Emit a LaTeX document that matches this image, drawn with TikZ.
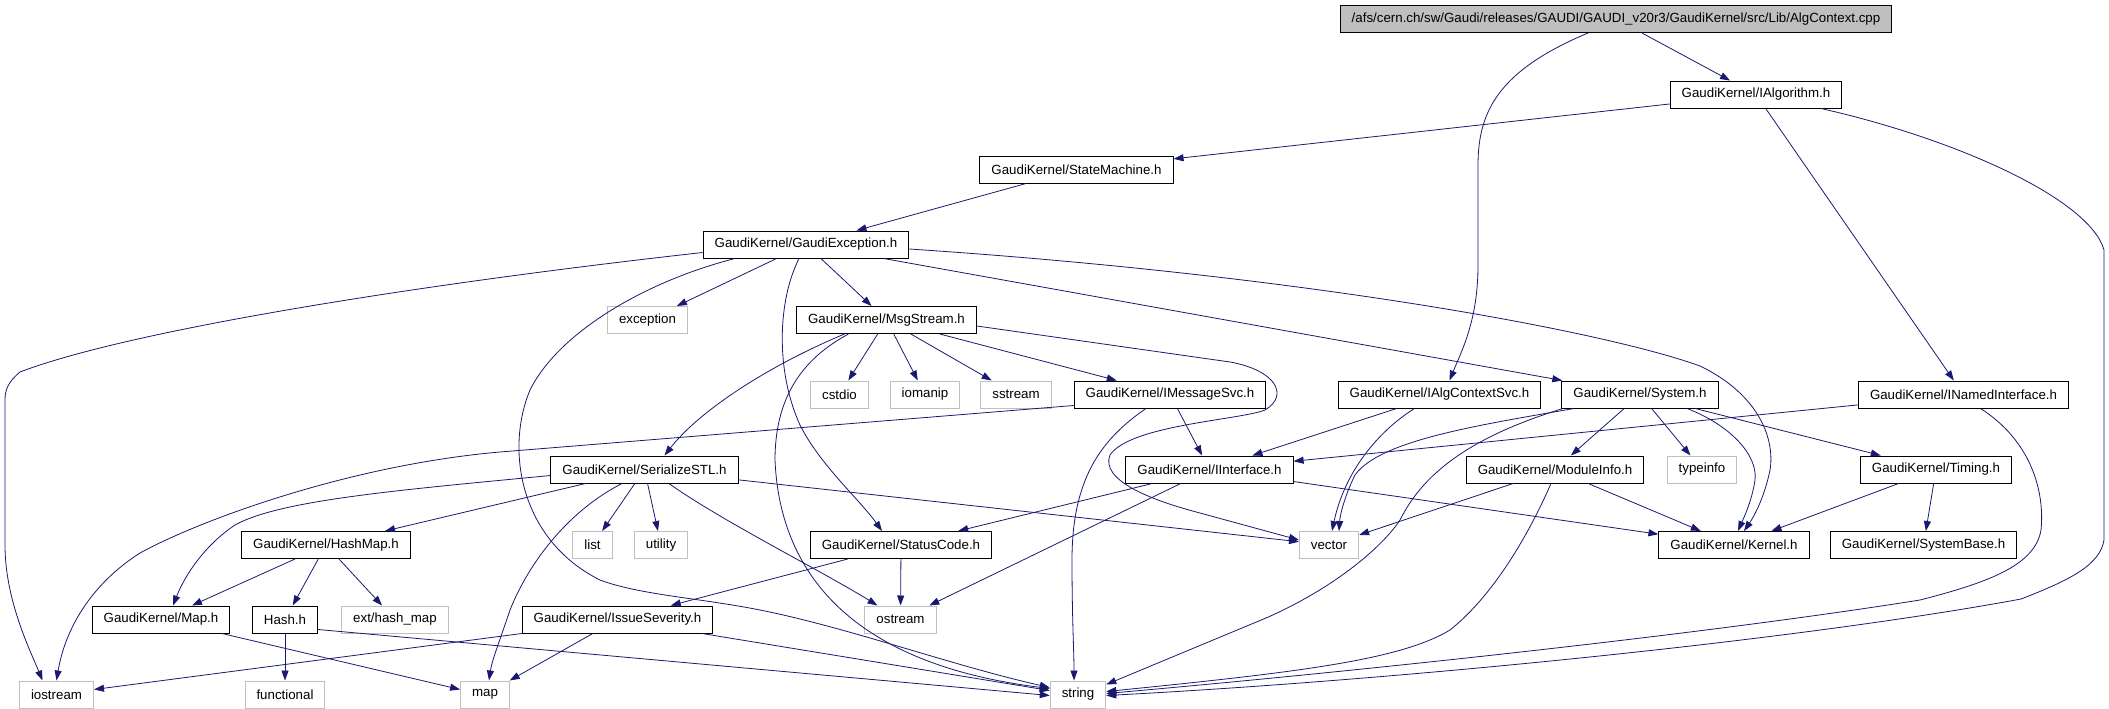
\documentclass[tikz,border=0pt]{standalone}
\usepackage{fontspec}
\setmainfont{Liberation Sans}
\usetikzlibrary{arrows.meta}
\definecolor{edgeblue}{RGB}{25,25,112}
\definecolor{boxgray}{RGB}{191,191,191}

\tikzset{
  hdr/.style={draw=black, line width=1pt, minimum height=27pt, inner xsep=11.5pt, inner ysep=0pt, font=\fontsize{13.3}{15}\selectfont},
  stdhdr/.style={hdr, draw=boxgray},
  rootbox/.style={hdr, fill=boxgray},
  dep/.style={draw=edgeblue, line width=0.8pt, -{Triangle[length=10pt,width=7pt]}}
}

\begin{document}
\begin{tikzpicture}[x=1pt, y=-1pt]

% Frame
\useasboundingbox (0,0) rectangle (2109,709);

% Root file
\node[rootbox] (root) at (1616,19) {/afs/cern.ch/sw/Gaudi/releases/GAUDI/GAUDI\_v20r3/GaudiKernel/src/Lib/AlgContext.cpp};

% GaudiKernel headers
\node[hdr] (ia) at (1756,94.5) {GaudiKernel/IAlgorithm.h};
\node[hdr] (sm) at (1076.5,169.5) {GaudiKernel/StateMachine.h};
\node[hdr] (ge) at (806,244.5) {GaudiKernel/GaudiException.h};
\node[hdr] (ms) at (886.5,320) {GaudiKernel/MsgStream.h};
\node[hdr] (ims) at (1170,394.5) {GaudiKernel/IMessageSvc.h};
\node[hdr] (ics) at (1439.5,394.5) {GaudiKernel/IAlgContextSvc.h};
\node[hdr] (system) at (1640,394.5) {GaudiKernel/System.h};
\node[hdr] (ini) at (1963.5,394.5) {GaudiKernel/INamedInterface.h};
\node[hdr] (sstl) at (644.5,469.5) {GaudiKernel/SerializeSTL.h};
\node[hdr] (ii) at (1209.5,469.5) {GaudiKernel/IInterface.h};
\node[hdr] (mi) at (1555,469.5) {GaudiKernel/ModuleInfo.h};
\node[hdr] (timing) at (1936,469.5) {GaudiKernel/Timing.h};
\node[hdr] (hm) at (326,545) {GaudiKernel/HashMap.h};
\node[hdr] (sc) at (901,545) {GaudiKernel/StatusCode.h};
\node[hdr] (kernel) at (1734,545) {GaudiKernel/Kernel.h};
\node[hdr] (sb) at (1923.5,545) {GaudiKernel/SystemBase.h};
\node[hdr] (gkmap) at (161,619.5) {GaudiKernel/Map.h};
\node[hdr] (hash) at (285,619.5) {Hash.h};
\node[hdr] (is) at (617.5,619.5) {GaudiKernel/IssueSeverity.h};

% System headers
\foreach \n/\x/\y/\t in {exc/647.5/320/exception, cstdio/839.5/394.5/cstdio,
  iomanip/925/394.5/iomanip, sstream/1016/394.5/sstream,
  typeinfo/1702/469.5/typeinfo, list/592.5/545/list, utility/661/545/utility,
  vector/1329/545/vector, exthm/395/619.5/{ext/hash\_map}, ostream/900.5/619.5/ostream,
  iostream/56.5/694.5/iostream, functional/285/694.5/functional,
  stdmap/485/694.5/map, string/1078/694.5/string} {
    \node[stdhdr] (\n) at (\x,\y) {\t};
}

% Root
\draw[dep] (root) -- (ia);
\draw[dep] ([xshift=-28pt]root.south) .. controls (1500,70) and (1478,110) .. (1478,165) -- (1478,265) .. controls (1478,320) and (1462,350) .. ([xshift=10pt]ics.north);

% IAlgorithm
\draw[dep] (ia) -- (sm);
\draw[dep] (ia) -- (ini);
\draw[dep] ([xshift=65pt]ia.south) .. controls (1960,140) and (2090,200) .. (2104,250) -- (2104,540) .. controls (2100,565) and (2070,580) .. (2021,599) .. controls (1800,640) and (1400,680) .. ([yshift=-1pt]string.east);

% StateMachine
\draw[dep] (sm) -- (ge);

% GaudiException
\draw[dep] (ge) -- (exc);
\draw[dep] (ge) -- (ms);
\draw[dep] (ge) -- (system);
\draw[dep] ([yshift=-8pt]ge.west) .. controls (420,284) and (130,330) .. (20,372) .. controls (8,382) and (5,390) .. (5,400) -- (5,545) .. controls (5,600) and (30,650) .. ([xshift=-14pt]iostream.north);
\draw[dep] ([xshift=-7pt]ge.south) .. controls (778,300) and (775,370) .. (800,425) .. controls (820,465) and (860,500) .. ([xshift=-19pt]sc.north);
\draw[dep] ([xshift=-71pt]ge.south) .. controls (650,280) and (560,330) .. (530,390) .. controls (505,450) and (520,540) .. (600,580) .. controls (640,595) and (700,598) .. (760,610) .. controls (850,628) and (950,665) .. ([yshift=7pt]string.west);
\draw[dep] ([yshift=-4.5pt]ge.east) .. controls (1300,275) and (1600,330) .. (1700,366) .. controls (1760,395) and (1775,440) .. (1770,470) .. controls (1765,495) and (1755,515) .. ([xshift=10pt]kernel.north);

% MsgStream
\draw[dep] (ms) -- (cstdio);
\draw[dep] (ms) -- (iomanip);
\draw[dep] (ms) -- (sstream);
\draw[dep] (ms) -- (ims);
\draw[dep] ([xshift=-42pt]ms.south) .. controls (770,365) and (700,410) .. ([xshift=20pt]sstl.north);
\draw[dep] ([xshift=-38pt]ms.south) .. controls (800,360) and (775,400) .. (775,460) .. controls (780,580) and (860,665) .. ([yshift=6pt]string.west);
\draw[dep] ([yshift=-6pt]ms.east) -- (1230,362) .. controls (1275,370) and (1290,395) .. (1265,410) .. controls (1240,420) and (1130,425) .. (1110,455) .. controls (1100,480) and (1150,500) .. (1200,513) -- ([yshift=5pt]vector.west);

% IMessageSvc
\draw[dep] (ims) -- (ii);
\draw[dep] ([yshift=-11pt]ims.west) -- (500,452) .. controls (350,465) and (200,520) .. (140,553) .. controls (90,585) and (65,630) .. (iostream.north);
\draw[dep] ([xshift=-24pt]ims.south) .. controls (1100,440) and (1072,480) .. (1072,560) .. controls (1072,620) and (1074,650) .. ([xshift=-4pt]string.north);

% IAlgContextSvc
\draw[dep] (ics) -- (ii);
\draw[dep] ([xshift=-25pt]ics.south) .. controls (1380,430) and (1345,470) .. ([xshift=3pt]vector.north);

% System
\draw[dep] (system) -- (mi);
\draw[dep] (system) -- (typeinfo);
\draw[dep] (system) -- (timing);
\draw[dep] ([xshift=47pt]system.south) .. controls (1730,425) and (1758,455) .. (1755,480) .. controls (1752,500) and (1745,515) .. ([xshift=4pt]kernel.north);
\draw[dep] ([xshift=-66pt]system.south) .. controls (1480,425) and (1380,440) .. (1355,475) .. controls (1345,495) and (1340,515) .. ([xshift=10pt]vector.north);
\draw[dep] ([xshift=-77pt]system.south) .. controls (1460,440) and (1420,480) .. (1400,520) .. controls (1380,550) and (1330,590) .. (1266,618) -- ([yshift=10pt]string.east);

% INamedInterface
\draw[dep] (ini) -- (ii);
\draw[dep] ([xshift=17pt]ini.south) .. controls (2030,440) and (2045,490) .. (2041,530) .. controls (2035,565) and (1990,582) .. (1920,600) .. controls (1700,635) and (1350,672) .. ([yshift=1pt]string.east);

% ModuleInfo
\draw[dep] (mi) -- (vector);
\draw[dep] (mi) -- (kernel);
\draw[dep] ([xshift=-4pt]mi.south) .. controls (1535,520) and (1500,590) .. (1450,630) .. controls (1400,660) and (1300,672) .. ([yshift=3pt]string.east);

% Timing
\draw[dep] (timing) -- (kernel);
\draw[dep] (timing) -- (sb);

% IInterface
\draw[dep] (ii) -- (sc);
\draw[dep] (ii) -- (ostream);
\draw[dep] (ii) -- (kernel);

% SerializeSTL
\draw[dep] (sstl) -- (hm);
\draw[dep] (sstl) -- (list);
\draw[dep] (sstl) -- (utility);
\draw[dep] (sstl) -- (vector);
\draw[dep] ([yshift=-6pt]sstl.west) .. controls (400,490) and (280,500) .. (235,525) .. controls (205,545) and (185,575) .. ([xshift=12pt]gkmap.north);
\draw[dep] ([xshift=24.5pt]sstl.south) .. controls (720,520) and (820,570) .. ([xshift=-23pt]ostream.north);
\draw[dep] ([xshift=-22.5pt]sstl.south) .. controls (570,510) and (530,560) .. (510,610) .. controls (500,640) and (492,660) .. ([xshift=4pt]stdmap.north);

% StatusCode
\draw[dep] (sc) -- (is);
\draw[dep] (sc) -- (ostream);

% HashMap
\draw[dep] (hm) -- (gkmap);
\draw[dep] (hm) -- (hash);
\draw[dep] (hm) -- (exthm);

% Hash and Map
\draw[dep] (hash) -- (functional);
\draw[dep] ([yshift=-10pt]hash.east) -- ([yshift=-1pt]string.west);
\draw[dep] ([xshift=61pt]gkmap.south) -- ([yshift=5pt]stdmap.west);

% IssueSeverity
\draw[dep] (is.south west) -- ([yshift=5pt]iostream.east);
\draw[dep] (is) -- (stdmap);
\draw[dep] ([xshift=84.5pt]is.south) -- ([yshift=4pt]string.west);

\end{tikzpicture}
\end{document}
